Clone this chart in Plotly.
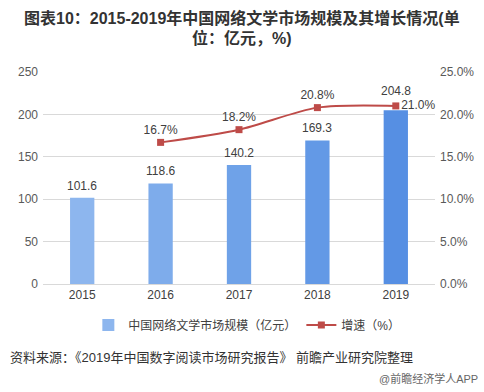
import plotly.graph_objects as go

years = ["2015", "2016", "2017", "2018", "2019"]
market_size = [101.6, 118.6, 140.2, 169.3, 204.8]
growth_years = ["2016", "2017", "2018", "2019"]
growth_rate = [16.7, 18.2, 20.8, 21.0]
left_ticks = [0, 50, 100, 150, 200, 250]
right_ticks = [0, 5, 10, 15, 20, 25]

bar_colors = ["#8db6ee", "#7eaceb", "#6fa2e8", "#6399e6", "#568fe3"]
FONT = "Liberation Sans, Noto Sans CJK SC, sans-serif"

PLOT_TOP, PLOT_BOTTOM = 72, 284
PH = PLOT_BOTTOM - PLOT_TOP


def py(p):
    return (PLOT_BOTTOM - p) / PH


fig = go.Figure()
fig.add_trace(go.Bar(
    x=years, y=market_size, name="中国网络文学市场规模（亿元）",
    marker=dict(color=bar_colors, line=dict(width=0)),
    width=0.31, yaxis="y",
))
fig.add_trace(go.Scatter(
    x=growth_years, y=growth_rate, name="增速（%）",
    mode="lines+markers+text",
    line=dict(color="#be4b48", width=2, shape="spline", smoothing=0.8),
    marker=dict(symbol="square", size=7, color="#be4b48"),
    text=[f"{v:.1f}%" for v in growth_rate],
    textposition=["top center", "top center", "top center", "middle right"],
    textfont=dict(size=12, color="#404040"), cliponaxis=False,
    yaxis="y2",
))

# bar value labels (category index positions)
for i, v in enumerate(market_size):
    shift = 19 if i == len(years) - 1 else 12
    fig.add_annotation(
        x=i, y=v, xref="x", yref="y", text=f"{v:.1f}", showarrow=False,
        yshift=shift, font=dict(size=12, color="#404040"),
    )

fig.update_layout(
    width=484, height=392,
    margin=dict(l=43, r=49, t=PLOT_TOP, b=392 - PLOT_BOTTOM, autoexpand=False),
    paper_bgcolor="white", plot_bgcolor="white",
    font=dict(family=FONT, size=12, color="#595959"),
    xaxis=dict(
        type="category", categoryorder="array", categoryarray=years,
        range=[-0.5, len(years) - 0.5],
        tickfont=dict(size=12, color="#404040"),
        showline=True, linecolor="#d9d9d9", ticks="", showgrid=False,
    ),
    yaxis=dict(
        range=[0, 250], tickvals=left_ticks, showgrid=True, gridcolor="#d9d9d9",
        zeroline=False, tickfont=dict(size=12, color="#595959"), ticklabelstandoff=4,
    ),
    yaxis2=dict(
        range=[0, 25], tickvals=right_ticks, ticktext=[f"{v:.1f}%" for v in right_ticks],
        overlaying="y", side="right", showgrid=False, zeroline=False,
        tickfont=dict(size=12, color="#595959"), ticklabelstandoff=4,
    ),
    legend=dict(
        orientation="h", x=0.52, xanchor="center", y=py(325), yanchor="middle",
        font=dict(size=12, color="#404040"), itemwidth=30,
    ),
    bargap=0.6,
    showlegend=True,
)

TITLE_FONT = dict(size=16, color="#333333", family="Arial, Liberation Sans, Noto Sans CJK SC")
fig.add_annotation(
    text="<b>图表10：2015-2019年中国网络文学市场规模及其增长情况(单</b>",
    xref="paper", yref="paper", x=(242 - 43) / 392, y=py(18), xanchor="center", yanchor="middle",
    showarrow=False, font=TITLE_FONT,
)
fig.add_annotation(
    text="<b>位：亿元，%)</b>",
    xref="paper", yref="paper", x=(242 - 43) / 392, y=py(38), xanchor="center", yanchor="middle",
    showarrow=False, font=TITLE_FONT,
)
fig.add_annotation(
    text="资料来源：《2019年中国数字阅读市场研究报告》 前瞻产业研究院整理",
    xref="paper", yref="paper", x=(8 - 43) / 392, y=py(357), xanchor="left", yanchor="middle",
    showarrow=False, font=dict(size=13, color="#333333"),
)
fig.add_annotation(
    text="@前瞻经济学人APP",
    xref="paper", yref="paper", x=(480 - 43) / 392, y=py(378), xanchor="right", yanchor="middle",
    showarrow=False, font=dict(size=11, color="#666666"),
)

fig.write_html(
    "out.html",
    config={"displayModeBar": False},
    post_script="document.body.style.margin='0';document.body.style.padding='0';",
)
